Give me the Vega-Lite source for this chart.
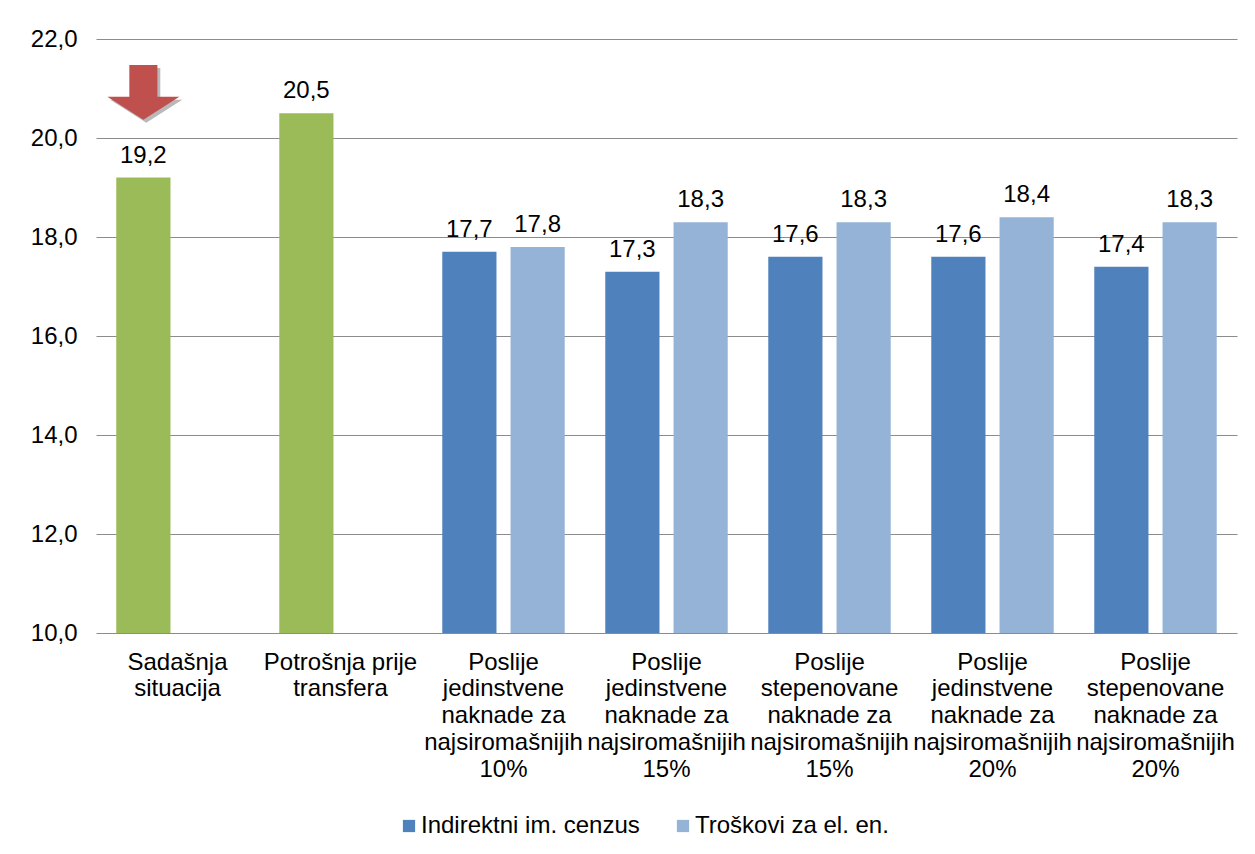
{
  "$schema": "https://vega.github.io/schema/vega-lite/v6.json",
  "autosize": "none",
  "width": 1141,
  "height": 594,
  "padding": {"left": 96, "top": 39, "right": 18, "bottom": 221},
  "background": "white",
  "config": {
    "locale": {"number": {"decimal": ",", "thousands": ".", "grouping": [3], "currency": ["", " KM"]}},
    "font": "Liberation Sans",
    "view": {"stroke": null},
    "axis": {"labelFont": "Liberation Sans", "labelColor": "#000000"}
  },
  "datasets": {
    "bars": [
      {"category": "Sadašnja|situacija", "series": "Ukupno", "value": 19.2},
      {"category": "Potrošnja prije|transfera", "series": "Ukupno", "value": 20.5},
      {"category": "Poslije|jedinstvene|naknade za|najsiromašnijih|10%", "series": "Indirektni im. cenzus", "value": 17.7},
      {"category": "Poslije|jedinstvene|naknade za|najsiromašnijih|10%", "series": "Troškovi za el. en.", "value": 17.8},
      {"category": "Poslije|jedinstvene|naknade za|najsiromašnijih|15%", "series": "Indirektni im. cenzus", "value": 17.3},
      {"category": "Poslije|jedinstvene|naknade za|najsiromašnijih|15%", "series": "Troškovi za el. en.", "value": 18.3},
      {"category": "Poslije|stepenovane|naknade za|najsiromašnijih|15%", "series": "Indirektni im. cenzus", "value": 17.6},
      {"category": "Poslije|stepenovane|naknade za|najsiromašnijih|15%", "series": "Troškovi za el. en.", "value": 18.3},
      {"category": "Poslije|jedinstvene|naknade za|najsiromašnijih|20%", "series": "Indirektni im. cenzus", "value": 17.6},
      {"category": "Poslije|jedinstvene|naknade za|najsiromašnijih|20%", "series": "Troškovi za el. en.", "value": 18.4},
      {"category": "Poslije|stepenovane|naknade za|najsiromašnijih|20%", "series": "Indirektni im. cenzus", "value": 17.4},
      {"category": "Poslije|stepenovane|naknade za|najsiromašnijih|20%", "series": "Troškovi za el. en.", "value": 18.3}
    ],
    "marker": [
      {"category": "Sadašnja|situacija", "series": "Ukupno", "value": 20.92}
    ]
  },
  "encoding": {
    "x": {
      "field": "category",
      "type": "nominal",
      "sort": null,
      "scale": {"paddingInner": 0, "paddingOuter": 0},
      "axis": {
        "title": null,
        "labelAngle": 0,
        "labelExpr": "split(datum.label, '|')",
        "labelFontSize": 24,
        "labelLineHeight": 26.8,
        "labelPadding": 17,
        "labelOverlap": false,
        "labelLimit": 0,
        "labelBound": false,
        "ticks": false,
        "domain": false
      }
    },
    "xOffset": {
      "field": "slot",
      "type": "nominal",
      "scale": {"domain": ["a", "b"], "paddingInner": 0.206, "paddingOuter": 0.297}
    }
  },
  "layer": [
    {
      "data": {"name": "bars"},
      "transform": [
        {"calculate": "datum.series === 'Troškovi za el. en.' ? 'b' : 'a'", "as": "slot"}
      ],
      "mark": {"type": "bar"},
      "encoding": {
        "y": {
          "field": "value",
          "type": "quantitative",
          "scale": {"domain": [10, 22], "zero": false, "nice": false},
          "axis": {
            "title": null,
            "values": [10, 12, 14, 16, 18, 20, 22],
            "format": ".1f",
            "labelFontSize": 24,
            "labelPadding": 19,
            "ticks": false,
            "domain": false,
            "grid": true,
            "gridColor": "#8c8c8c",
            "gridWidth": 1.2,
            "gridOpacity": 1
          }
        },
        "y2": {"datum": 10},
        "color": {
          "field": "series",
          "type": "nominal",
          "scale": {
            "domain": ["Indirektni im. cenzus", "Troškovi za el. en.", "Ukupno"],
            "range": ["#4F81BD", "#95B3D7", "#9BBB59"]
          },
          "legend": {
            "title": null,
            "values": ["Indirektni im. cenzus", "Troškovi za el. en."],
            "orient": "none",
            "direction": "horizontal",
            "legendX": 301,
            "legendY": 775,
            "symbolType": "square",
            "symbolSize": 150,
            "symbolStrokeWidth": 0,
            "labelFontSize": 24,
            "labelFont": "Liberation Sans",
            "labelColor": "#000000",
            "labelOffset": 0,
            "columnPadding": 31,
            "labelLimit": 0
          }
        }
      }
    },
    {
      "data": {"name": "bars"},
      "transform": [
        {"calculate": "datum.series === 'Troškovi za el. en.' ? 'b' : 'a'", "as": "slot"}
      ],
      "mark": {"type": "text", "fontSize": 24, "baseline": "alphabetic", "dy": -15, "color": "#000000"},
      "encoding": {
        "y": {"field": "value", "type": "quantitative"},
        "text": {"field": "value", "type": "quantitative", "format": ".1f"}
      }
    },
    {
      "data": {"name": "marker"},
      "transform": [{"calculate": "'a'", "as": "slot"}],
      "mark": {
        "type": "point",
        "filled": true,
        "size": 5184,
        "color": "#7f7f7f",
        "opacity": 0.55,
        "shape": "M-0.31,-0.68 L0.47,-0.68 L0.47,0.2 L1.08,0.2 L0.08,0.84 L-0.92,0.2 L-0.31,0.2 Z"
      },
      "encoding": {
        "y": {"field": "value", "type": "quantitative"}
      }
    },
    {
      "data": {"name": "marker"},
      "transform": [{"calculate": "'a'", "as": "slot"}],
      "mark": {
        "type": "point",
        "filled": true,
        "size": 5184,
        "color": "#C0504D",
        "opacity": 1,
        "shape": "M-0.39,-0.76 L0.39,-0.76 L0.39,0.12 L1,0.12 L0,0.76 L-1,0.12 L-0.39,0.12 Z"
      },
      "encoding": {
        "y": {"field": "value", "type": "quantitative"}
      }
    }
  ]
}
